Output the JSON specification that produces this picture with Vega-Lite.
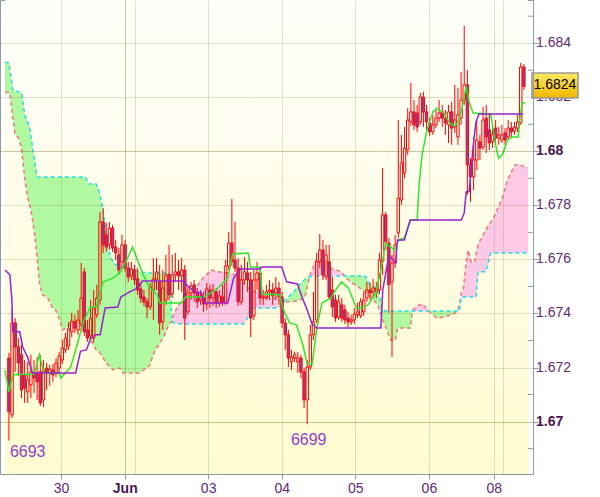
{
"$schema":"https://vega.github.io/schema/vega-lite/v6.json",
"width":533,"height":474,
"autosize":{"type":"none"},
"padding":{"left":0,"top":0,"right":67,"bottom":23},
"background":"#ffffff",
"config":{"font":"Liberation Sans","view":{"stroke":"#8e9aa4","strokeWidth":1}},
"datasets":{
"candles":[
{"i":0,"o":1.67235,"h":1.67254,"l":1.6693,"c":1.67036},
{"i":1,"o":1.67025,"h":1.67413,"l":1.67013,"c":1.67365},
{"i":2,"o":1.67365,"h":1.67383,"l":1.67184,"c":1.67276},
{"i":3,"o":1.67276,"h":1.67309,"l":1.67169,"c":1.67217},
{"i":4,"o":1.67247,"h":1.67284,"l":1.67087,"c":1.67117},
{"i":5,"o":1.67173,"h":1.67228,"l":1.67069,"c":1.67124},
{"i":6,"o":1.6711,"h":1.67221,"l":1.67069,"c":1.67154},
{"i":7,"o":1.67136,"h":1.67247,"l":1.67087,"c":1.67184},
{"i":8,"o":1.6718,"h":1.67228,"l":1.67106,"c":1.67161},
{"i":9,"o":1.67176,"h":1.67239,"l":1.6708,"c":1.67147},
{"i":10,"o":1.67184,"h":1.67247,"l":1.67058,"c":1.67069},
{"i":11,"o":1.6708,"h":1.67228,"l":1.67054,"c":1.67191},
{"i":12,"o":1.67198,"h":1.67217,"l":1.67117,"c":1.6718},
{"i":13,"o":1.6718,"h":1.6721,"l":1.67132,"c":1.67195},
{"i":14,"o":1.67191,"h":1.67213,"l":1.67147,"c":1.67173},
{"i":15,"o":1.6718,"h":1.67235,"l":1.67165,"c":1.67217},
{"i":16,"o":1.67198,"h":1.67258,"l":1.67173,"c":1.67243},
{"i":17,"o":1.67228,"h":1.67302,"l":1.67213,"c":1.67272},
{"i":18,"o":1.67265,"h":1.67328,"l":1.67254,"c":1.67309},
{"i":19,"o":1.6728,"h":1.67369,"l":1.67265,"c":1.67343},
{"i":20,"o":1.67332,"h":1.67402,"l":1.67313,"c":1.67372},
{"i":21,"o":1.67369,"h":1.67395,"l":1.67328,"c":1.67346},
{"i":22,"o":1.67339,"h":1.67413,"l":1.67321,"c":1.67376},
{"i":23,"o":1.67358,"h":1.67587,"l":1.67339,"c":1.67457},
{"i":24,"o":1.67554,"h":1.67568,"l":1.67317,"c":1.67332},
{"i":25,"o":1.67339,"h":1.67376,"l":1.67295,"c":1.67309},
{"i":26,"o":1.67317,"h":1.6745,"l":1.67302,"c":1.67383},
{"i":27,"o":1.67309,"h":1.67487,"l":1.67291,"c":1.6742},
{"i":28,"o":1.67395,"h":1.67506,"l":1.67383,"c":1.67457},
{"i":29,"o":1.6745,"h":1.67776,"l":1.67432,"c":1.67739},
{"i":30,"o":1.67739,"h":1.6779,"l":1.67624,"c":1.67654},
{"i":31,"o":1.67691,"h":1.67735,"l":1.67628,"c":1.67646},
{"i":32,"o":1.67654,"h":1.67739,"l":1.67635,"c":1.67716},
{"i":33,"o":1.67716,"h":1.67728,"l":1.67628,"c":1.67642},
{"i":34,"o":1.67646,"h":1.67672,"l":1.67598,"c":1.67624},
{"i":35,"o":1.67617,"h":1.67642,"l":1.67543,"c":1.67561},
{"i":36,"o":1.67591,"h":1.67691,"l":1.67568,"c":1.67654},
{"i":37,"o":1.67654,"h":1.67672,"l":1.67554,"c":1.67568},
{"i":38,"o":1.67568,"h":1.67591,"l":1.67517,"c":1.67535},
{"i":39,"o":1.67539,"h":1.67591,"l":1.67524,"c":1.67565},
{"i":40,"o":1.67561,"h":1.6758,"l":1.67506,"c":1.67524},
{"i":41,"o":1.67528,"h":1.67568,"l":1.67469,"c":1.67487},
{"i":42,"o":1.67491,"h":1.67513,"l":1.67439,"c":1.67457},
{"i":43,"o":1.67461,"h":1.67487,"l":1.67428,"c":1.67443},
{"i":44,"o":1.67443,"h":1.67457,"l":1.67383,"c":1.67424},
{"i":45,"o":1.67424,"h":1.67513,"l":1.67413,"c":1.67498},
{"i":46,"o":1.67487,"h":1.67605,"l":1.67376,"c":1.67528},
{"i":47,"o":1.67524,"h":1.67605,"l":1.67487,"c":1.67554},
{"i":48,"o":1.67517,"h":1.6758,"l":1.67321,"c":1.67365},
{"i":49,"o":1.67369,"h":1.67561,"l":1.67339,"c":1.67494},
{"i":50,"o":1.6745,"h":1.67617,"l":1.67432,"c":1.67543},
{"i":51,"o":1.67543,"h":1.67654,"l":1.6745,"c":1.67469},
{"i":52,"o":1.67472,"h":1.67617,"l":1.67457,"c":1.67543},
{"i":53,"o":1.67543,"h":1.67624,"l":1.67517,"c":1.67554},
{"i":54,"o":1.67554,"h":1.67598,"l":1.67487,"c":1.67539},
{"i":55,"o":1.67539,"h":1.67605,"l":1.6748,"c":1.67561},
{"i":56,"o":1.67561,"h":1.6758,"l":1.67302,"c":1.67383},
{"i":57,"o":1.67406,"h":1.67498,"l":1.67395,"c":1.67476},
{"i":58,"o":1.67476,"h":1.67517,"l":1.6745,"c":1.67502},
{"i":59,"o":1.67506,"h":1.67524,"l":1.67443,"c":1.67476},
{"i":60,"o":1.67476,"h":1.67494,"l":1.6742,"c":1.67443},
{"i":61,"o":1.6745,"h":1.67487,"l":1.67432,"c":1.67461},
{"i":62,"o":1.67461,"h":1.6748,"l":1.67406,"c":1.67435},
{"i":63,"o":1.67435,"h":1.67513,"l":1.67413,"c":1.67491},
{"i":64,"o":1.67487,"h":1.67506,"l":1.6742,"c":1.67457},
{"i":65,"o":1.67457,"h":1.67509,"l":1.67428,"c":1.67487},
{"i":66,"o":1.6748,"h":1.67494,"l":1.6742,"c":1.67439},
{"i":67,"o":1.67439,"h":1.67487,"l":1.67424,"c":1.67465},
{"i":68,"o":1.67461,"h":1.67506,"l":1.67428,"c":1.67443},
{"i":69,"o":1.67439,"h":1.67598,"l":1.67432,"c":1.67576},
{"i":70,"o":1.67576,"h":1.67702,"l":1.67561,"c":1.67661},
{"i":71,"o":1.67661,"h":1.67824,"l":1.67576,"c":1.67591},
{"i":72,"o":1.67598,"h":1.67739,"l":1.67554,"c":1.67568},
{"i":73,"o":1.67568,"h":1.67605,"l":1.67428,"c":1.67443},
{"i":74,"o":1.67443,"h":1.6758,"l":1.67432,"c":1.67524},
{"i":75,"o":1.67524,"h":1.67609,"l":1.67506,"c":1.67554},
{"i":76,"o":1.6755,"h":1.67591,"l":1.6748,"c":1.67524},
{"i":77,"o":1.67524,"h":1.67554,"l":1.67313,"c":1.67383},
{"i":78,"o":1.67391,"h":1.67561,"l":1.67376,"c":1.67524},
{"i":79,"o":1.67524,"h":1.67591,"l":1.67487,"c":1.6755},
{"i":80,"o":1.6755,"h":1.67568,"l":1.67432,"c":1.67457},
{"i":81,"o":1.67457,"h":1.67487,"l":1.67432,"c":1.67461},
{"i":82,"o":1.67457,"h":1.67506,"l":1.6745,"c":1.6748},
{"i":83,"o":1.6748,"h":1.67524,"l":1.6745,"c":1.67487},
{"i":84,"o":1.67487,"h":1.67513,"l":1.67432,"c":1.67465},
{"i":85,"o":1.67476,"h":1.67535,"l":1.6745,"c":1.67494},
{"i":86,"o":1.67494,"h":1.67517,"l":1.67432,"c":1.67461},
{"i":87,"o":1.67461,"h":1.6748,"l":1.67346,"c":1.67365},
{"i":88,"o":1.67365,"h":1.67383,"l":1.67265,"c":1.67321},
{"i":89,"o":1.67321,"h":1.67339,"l":1.67202,"c":1.67235},
{"i":90,"o":1.67221,"h":1.67265,"l":1.67191,"c":1.67239},
{"i":91,"o":1.67235,"h":1.67258,"l":1.67221,"c":1.67247},
{"i":92,"o":1.67221,"h":1.67258,"l":1.6718,"c":1.67235},
{"i":93,"o":1.67235,"h":1.67247,"l":1.67161,"c":1.67184},
{"i":94,"o":1.67184,"h":1.67198,"l":1.6705,"c":1.6708},
{"i":95,"o":1.6708,"h":1.67228,"l":1.6699,"c":1.67202},
{"i":96,"o":1.67202,"h":1.67358,"l":1.67191,"c":1.67321},
{"i":97,"o":1.67321,"h":1.6748,"l":1.67302,"c":1.67369},
{"i":98,"o":1.67376,"h":1.67624,"l":1.67365,"c":1.67591},
{"i":99,"o":1.67591,"h":1.67694,"l":1.67568,"c":1.67635},
{"i":100,"o":1.67635,"h":1.67672,"l":1.67524,"c":1.67543},
{"i":101,"o":1.67535,"h":1.67654,"l":1.67524,"c":1.67617},
{"i":102,"o":1.67591,"h":1.67654,"l":1.6745,"c":1.67461},
{"i":103,"o":1.67487,"h":1.67535,"l":1.67387,"c":1.67424},
{"i":104,"o":1.6745,"h":1.67469,"l":1.67369,"c":1.67383},
{"i":105,"o":1.67387,"h":1.67469,"l":1.67376,"c":1.67443},
{"i":106,"o":1.67432,"h":1.67457,"l":1.67369,"c":1.67383},
{"i":107,"o":1.67413,"h":1.67432,"l":1.67361,"c":1.67376},
{"i":108,"o":1.67383,"h":1.67406,"l":1.6735,"c":1.67369},
{"i":109,"o":1.67369,"h":1.67395,"l":1.67358,"c":1.67376},
{"i":110,"o":1.67376,"h":1.6742,"l":1.67361,"c":1.67398},
{"i":111,"o":1.67395,"h":1.67439,"l":1.67383,"c":1.67406},
{"i":112,"o":1.67391,"h":1.67457,"l":1.67383,"c":1.67443},
{"i":113,"o":1.67406,"h":1.6748,"l":1.67391,"c":1.6745},
{"i":114,"o":1.67457,"h":1.67517,"l":1.67443,"c":1.67487},
{"i":115,"o":1.67487,"h":1.67513,"l":1.6745,"c":1.67476},
{"i":116,"o":1.6748,"h":1.67528,"l":1.67457,"c":1.67494},
{"i":117,"o":1.67494,"h":1.67517,"l":1.67457,"c":1.6748},
{"i":118,"o":1.67487,"h":1.67624,"l":1.67472,"c":1.67598},
{"i":119,"o":1.67591,"h":1.67938,"l":1.67543,"c":1.67765},
{"i":120,"o":1.67765,"h":1.67776,"l":1.67635,"c":1.67665},
{"i":121,"o":1.67661,"h":1.67679,"l":1.67402,"c":1.67506},
{"i":122,"o":1.67517,"h":1.67617,"l":1.67239,"c":1.67587},
{"i":123,"o":1.67587,"h":1.67691,"l":1.67568,"c":1.67654},
{"i":124,"o":1.67698,"h":1.68116,"l":1.67679,"c":1.67827},
{"i":125,"o":1.6782,"h":1.68061,"l":1.67802,"c":1.67957},
{"i":126,"o":1.6792,"h":1.6809,"l":1.67901,"c":1.68012},
{"i":127,"o":1.68005,"h":1.6816,"l":1.67987,"c":1.68116},
{"i":128,"o":1.68109,"h":1.68253,"l":1.68094,"c":1.68146},
{"i":129,"o":1.68146,"h":1.6819,"l":1.68079,"c":1.68098},
{"i":130,"o":1.68142,"h":1.68172,"l":1.68072,"c":1.6809},
{"i":131,"o":1.68109,"h":1.68216,"l":1.68098,"c":1.68201},
{"i":132,"o":1.68201,"h":1.6822,"l":1.6809,"c":1.68146},
{"i":133,"o":1.68146,"h":1.68172,"l":1.68079,"c":1.68109},
{"i":134,"o":1.68105,"h":1.68123,"l":1.68057,"c":1.68072},
{"i":135,"o":1.68072,"h":1.68135,"l":1.68061,"c":1.68098},
{"i":136,"o":1.68098,"h":1.68153,"l":1.68086,"c":1.68123},
{"i":137,"o":1.68123,"h":1.6819,"l":1.68109,"c":1.68142},
{"i":138,"o":1.68146,"h":1.68172,"l":1.6809,"c":1.68123},
{"i":139,"o":1.68123,"h":1.68153,"l":1.68061,"c":1.68105},
{"i":140,"o":1.68098,"h":1.68172,"l":1.68031,"c":1.68146},
{"i":141,"o":1.68146,"h":1.68183,"l":1.68024,"c":1.68086},
{"i":142,"o":1.6809,"h":1.68246,"l":1.68068,"c":1.68116},
{"i":143,"o":1.68053,"h":1.68234,"l":1.68024,"c":1.68135},
{"i":144,"o":1.68123,"h":1.68294,"l":1.68098,"c":1.6819},
{"i":145,"o":1.6819,"h":1.68464,"l":1.68172,"c":1.68246},
{"i":146,"o":1.68246,"h":1.68301,"l":1.67839,"c":1.6795},
{"i":147,"o":1.6795,"h":1.67975,"l":1.67813,"c":1.67905},
{"i":148,"o":1.67905,"h":1.68053,"l":1.67857,"c":1.67968},
{"i":149,"o":1.67968,"h":1.68116,"l":1.67931,"c":1.68042},
{"i":150,"o":1.68035,"h":1.68061,"l":1.67968,"c":1.68012},
{"i":151,"o":1.68016,"h":1.68164,"l":1.68005,"c":1.68116},
{"i":152,"o":1.68123,"h":1.68172,"l":1.67994,"c":1.68053},
{"i":153,"o":1.68079,"h":1.68135,"l":1.68005,"c":1.68031},
{"i":154,"o":1.68035,"h":1.68098,"l":1.68012,"c":1.68061},
{"i":155,"o":1.68086,"h":1.68116,"l":1.68024,"c":1.68049},
{"i":156,"o":1.68049,"h":1.6809,"l":1.68024,"c":1.68061},
{"i":157,"o":1.68042,"h":1.68098,"l":1.68031,"c":1.68061},
{"i":158,"o":1.68068,"h":1.68086,"l":1.68024,"c":1.68042},
{"i":159,"o":1.68053,"h":1.68116,"l":1.68042,"c":1.68086},
{"i":160,"o":1.68086,"h":1.68109,"l":1.68049,"c":1.68072},
{"i":161,"o":1.68075,"h":1.68109,"l":1.68061,"c":1.6809},
{"i":162,"o":1.68086,"h":1.68135,"l":1.68072,"c":1.68109},
{"i":163,"o":1.68105,"h":1.68327,"l":1.68098,"c":1.68312},
{"i":164,"o":1.68312,"h":1.68323,"l":1.68227,"c":1.6824}
],
"green":[
{"i":-1.25,"p":1.67191},{"i":0,"p":1.6711},{"i":1.25,"p":1.67173},{"i":8.13,"p":1.67176},{"i":9.69,"p":1.67247},{"i":11.25,"p":1.6718},{"i":15.94,"p":1.6718},{"i":16.56,"p":1.67161},{"i":19.69,"p":1.67202},{"i":21.25,"p":1.67265},{"i":23.75,"p":1.67369},{"i":25.94,"p":1.67424},{"i":27.81,"p":1.67424},{"i":30,"p":1.67517},{"i":33.13,"p":1.67531},{"i":35.63,"p":1.67554},{"i":37.81,"p":1.67605},{"i":39.38,"p":1.67646},{"i":42.5,"p":1.6755},{"i":44.69,"p":1.67498},{"i":47.19,"p":1.67469},{"i":48.13,"p":1.67439},{"i":55,"p":1.67439},{"i":56.25,"p":1.67461},{"i":62.19,"p":1.67461},{"i":65.94,"p":1.67487},{"i":69.69,"p":1.67531},{"i":71.25,"p":1.6762},{"i":76.25,"p":1.67624},{"i":76.88,"p":1.67572},{"i":80,"p":1.67572},{"i":80.63,"p":1.67472},{"i":86.25,"p":1.67469},{"i":87.19,"p":1.6742},{"i":89.38,"p":1.67365},{"i":91.56,"p":1.67358},{"i":93.44,"p":1.67291},{"i":95,"p":1.67213},{"i":96.56,"p":1.67213},{"i":98.13,"p":1.6735},{"i":99.69,"p":1.67439},{"i":102.5,"p":1.67457},{"i":104.06,"p":1.67487},{"i":105.94,"p":1.67517},{"i":108.13,"p":1.67494},{"i":110.63,"p":1.6742},{"i":112.19,"p":1.6742},{"i":114.38,"p":1.67432},{"i":116.88,"p":1.67476},{"i":119.06,"p":1.67598},{"i":120,"p":1.67661},{"i":121.56,"p":1.67646},{"i":122.81,"p":1.67635},{"i":124.06,"p":1.67672},{"i":125.94,"p":1.67679},{"i":127.81,"p":1.67746},{"i":130,"p":1.67746},{"i":130.63,"p":1.67876},{"i":131.56,"p":1.67987},{"i":133.13,"p":1.68079},{"i":135,"p":1.68146},{"i":136.25,"p":1.6816},{"i":138.44,"p":1.68142},{"i":140.31,"p":1.68105},{"i":141.88,"p":1.68094},{"i":143.13,"p":1.68109},{"i":144.69,"p":1.68179},{"i":145.63,"p":1.68242},{"i":146.56,"p":1.68183},{"i":147.81,"p":1.68142},{"i":153.44,"p":1.68138},{"i":154.06,"p":1.6809},{"i":155,"p":1.68024},{"i":155.94,"p":1.67975},{"i":157.19,"p":1.67987},{"i":158.75,"p":1.68042},{"i":160.31,"p":1.68053},{"i":162.19,"p":1.68053},{"i":162.81,"p":1.68127},{"i":163.44,"p":1.68179},{"i":164.38,"p":1.68179}
],
"purple":[
{"i":-1.25,"p":1.67561},{"i":0.31,"p":1.67543},{"i":0.94,"p":1.6745},{"i":1.25,"p":1.67332},{"i":3.44,"p":1.67332},{"i":4.38,"p":1.67276},{"i":5.94,"p":1.67239},{"i":7.5,"p":1.6718},{"i":21.25,"p":1.6718},{"i":22.81,"p":1.67261},{"i":24.69,"p":1.67265},{"i":25.94,"p":1.67306},{"i":27.5,"p":1.67321},{"i":29.06,"p":1.67321},{"i":30.63,"p":1.6742},{"i":34.69,"p":1.67424},{"i":35.63,"p":1.67461},{"i":38.44,"p":1.6748},{"i":40.94,"p":1.67494},{"i":42.5,"p":1.6752},{"i":55.63,"p":1.6752},{"i":56.56,"p":1.67506},{"i":59.06,"p":1.6748},{"i":61.25,"p":1.67476},{"i":62.19,"p":1.67439},{"i":69.69,"p":1.67439},{"i":71.56,"p":1.67531},{"i":73.75,"p":1.67565},{"i":80,"p":1.67565},{"i":80.63,"p":1.67572},{"i":86.88,"p":1.67572},{"i":88.44,"p":1.67517},{"i":91.88,"p":1.67509},{"i":93.44,"p":1.67457},{"i":95,"p":1.67413},{"i":96.56,"p":1.67361},{"i":98.13,"p":1.67346},{"i":118.44,"p":1.67346},{"i":119.06,"p":1.67487},{"i":120.63,"p":1.67591},{"i":121.56,"p":1.67609},{"i":123.13,"p":1.67587},{"i":123.75,"p":1.67672},{"i":125.94,"p":1.67672},{"i":127.81,"p":1.67746},{"i":144.06,"p":1.67746},{"i":145,"p":1.67772},{"i":145.63,"p":1.6785},{"i":146.56,"p":1.6785},{"i":147.81,"p":1.68016},{"i":148.75,"p":1.68109},{"i":149.69,"p":1.68138},{"i":163.75,"p":1.68138}
],
"cloud":[
{"i":-1.25,"a":1.68331,"b":1.6822,"seg":1,"kind":"up"},
{"i":0,"a":1.68327,"b":1.68216,"seg":1,"kind":"up"},
{"i":0.31,"a":1.68301,"b":1.68216,"seg":1,"kind":"up"},
{"i":0.94,"a":1.68253,"b":1.68153,"seg":1,"kind":"up"},
{"i":1.25,"a":1.68227,"b":1.68123,"seg":1,"kind":"up"},
{"i":1.88,"a":1.68223,"b":1.68068,"seg":1,"kind":"up"},
{"i":3.44,"a":1.6822,"b":1.68042,"seg":1,"kind":"up"},
{"i":4.06,"a":1.68216,"b":1.68005,"seg":1,"kind":"up"},
{"i":5,"a":1.68135,"b":1.67905,"seg":1,"kind":"up"},
{"i":5.94,"a":1.68109,"b":1.67831,"seg":1,"kind":"up"},
{"i":6.56,"a":1.6809,"b":1.67802,"seg":1,"kind":"up"},
{"i":7.19,"a":1.68042,"b":1.67772,"seg":1,"kind":"up"},
{"i":7.5,"a":1.68016,"b":1.67746,"seg":1,"kind":"up"},
{"i":8.13,"a":1.67968,"b":1.67698,"seg":1,"kind":"up"},
{"i":8.75,"a":1.6792,"b":1.67635,"seg":1,"kind":"up"},
{"i":9.06,"a":1.67905,"b":1.67598,"seg":1,"kind":"up"},
{"i":9.69,"a":1.67905,"b":1.67513,"seg":1,"kind":"up"},
{"i":10.63,"a":1.67905,"b":1.67469,"seg":1,"kind":"up"},
{"i":12.19,"a":1.67905,"b":1.67461,"seg":1,"kind":"up"},
{"i":13.75,"a":1.67905,"b":1.67424,"seg":1,"kind":"up"},
{"i":15.31,"a":1.67905,"b":1.67406,"seg":1,"kind":"up"},
{"i":16.56,"a":1.67905,"b":1.67361,"seg":1,"kind":"up"},
{"i":17.19,"a":1.67905,"b":1.67339,"seg":1,"kind":"up"},
{"i":18.44,"a":1.67905,"b":1.6735,"seg":1,"kind":"up"},
{"i":20.63,"a":1.67905,"b":1.67369,"seg":1,"kind":"up"},
{"i":22.81,"a":1.67905,"b":1.67365,"seg":1,"kind":"up"},
{"i":23.75,"a":1.67905,"b":1.67339,"seg":1,"kind":"up"},
{"i":24.38,"a":1.67905,"b":1.67328,"seg":1,"kind":"up"},
{"i":25.31,"a":1.67879,"b":1.67313,"seg":1,"kind":"up"},
{"i":25.94,"a":1.67879,"b":1.67302,"seg":1,"kind":"up"},
{"i":27.81,"a":1.67879,"b":1.67265,"seg":1,"kind":"up"},
{"i":28.75,"a":1.6785,"b":1.67258,"seg":1,"kind":"up"},
{"i":30,"a":1.67783,"b":1.67235,"seg":1,"kind":"up"},
{"i":30.94,"a":1.67691,"b":1.67217,"seg":1,"kind":"up"},
{"i":31.56,"a":1.67635,"b":1.6721,"seg":1,"kind":"up"},
{"i":33.13,"a":1.67591,"b":1.67191,"seg":1,"kind":"up"},
{"i":34.06,"a":1.6758,"b":1.67195,"seg":1,"kind":"up"},
{"i":35.31,"a":1.67576,"b":1.67198,"seg":1,"kind":"up"},
{"i":36.25,"a":1.67572,"b":1.6718,"seg":1,"kind":"up"},
{"i":37.81,"a":1.67568,"b":1.6718,"seg":1,"kind":"up"},
{"i":41.56,"a":1.67554,"b":1.6718,"seg":1,"kind":"up"},
{"i":44.69,"a":1.6755,"b":1.67206,"seg":1,"kind":"up"},
{"i":46.56,"a":1.6755,"b":1.67265,"seg":1,"kind":"up"},
{"i":47.81,"a":1.6755,"b":1.67284,"seg":1,"kind":"up"},
{"i":49.38,"a":1.6755,"b":1.67317,"seg":1,"kind":"up"},
{"i":50.94,"a":1.6755,"b":1.67358,"seg":1,"kind":"up"},
{"i":51.25,"a":1.6755,"b":1.67365,"seg":1,"kind":"up"},
{"i":51.88,"a":1.67369,"b":1.67369,"seg":1,"kind":"up"},
{"i":51.88,"a":1.67369,"b":1.67369,"seg":2,"kind":"down"},
{"i":52.81,"a":1.67365,"b":1.67406,"seg":2,"kind":"down"},
{"i":55,"a":1.67361,"b":1.6745,"seg":2,"kind":"down"},
{"i":58.13,"a":1.67361,"b":1.67469,"seg":2,"kind":"down"},
{"i":61.25,"a":1.67361,"b":1.67524,"seg":2,"kind":"down"},
{"i":64.38,"a":1.67361,"b":1.67561,"seg":2,"kind":"down"},
{"i":66.56,"a":1.67361,"b":1.67554,"seg":2,"kind":"down"},
{"i":69.69,"a":1.67361,"b":1.6755,"seg":2,"kind":"down"},
{"i":72.19,"a":1.67361,"b":1.67543,"seg":2,"kind":"down"},
{"i":74.69,"a":1.67361,"b":1.67513,"seg":2,"kind":"down"},
{"i":75.94,"a":1.67383,"b":1.67498,"seg":2,"kind":"down"},
{"i":76.88,"a":1.6742,"b":1.67487,"seg":2,"kind":"down"},
{"i":79.38,"a":1.6742,"b":1.67476,"seg":2,"kind":"down"},
{"i":82.19,"a":1.6742,"b":1.67461,"seg":2,"kind":"down"},
{"i":84.69,"a":1.6742,"b":1.67457,"seg":2,"kind":"down"},
{"i":86.25,"a":1.67424,"b":1.6745,"seg":2,"kind":"down"},
{"i":87.5,"a":1.67443,"b":1.67443,"seg":2,"kind":"down"},
{"i":87.5,"a":1.67443,"b":1.67443,"seg":3,"kind":"up"},
{"i":89.38,"a":1.67465,"b":1.67443,"seg":3,"kind":"up"},
{"i":91.56,"a":1.67491,"b":1.67446,"seg":3,"kind":"up"},
{"i":92.5,"a":1.67506,"b":1.6745,"seg":3,"kind":"up"},
{"i":94.06,"a":1.67524,"b":1.67457,"seg":3,"kind":"up"},
{"i":94.69,"a":1.67531,"b":1.6748,"seg":3,"kind":"up"},
{"i":95.63,"a":1.67535,"b":1.67535,"seg":3,"kind":"up"},
{"i":95.63,"a":1.67535,"b":1.67535,"seg":4,"kind":"down"},
{"i":96.56,"a":1.67539,"b":1.67561,"seg":4,"kind":"down"},
{"i":97.81,"a":1.67539,"b":1.67598,"seg":4,"kind":"down"},
{"i":100.94,"a":1.67539,"b":1.67598,"seg":4,"kind":"down"},
{"i":102.5,"a":1.67539,"b":1.67568,"seg":4,"kind":"down"},
{"i":104.06,"a":1.67539,"b":1.67561,"seg":4,"kind":"down"},
{"i":105.94,"a":1.67539,"b":1.67554,"seg":4,"kind":"down"},
{"i":106.88,"a":1.67539,"b":1.67539,"seg":4,"kind":"down"},
{"i":106.88,"a":1.67539,"b":1.67539,"seg":5,"kind":"up"},
{"i":108.75,"a":1.67539,"b":1.67517,"seg":5,"kind":"up"},
{"i":111.25,"a":1.67539,"b":1.67498,"seg":5,"kind":"up"},
{"i":113.44,"a":1.67539,"b":1.6748,"seg":5,"kind":"up"},
{"i":114.38,"a":1.67517,"b":1.67472,"seg":5,"kind":"up"},
{"i":115.31,"a":1.67506,"b":1.67461,"seg":5,"kind":"up"},
{"i":117.5,"a":1.67487,"b":1.67432,"seg":5,"kind":"up"},
{"i":119.06,"a":1.67413,"b":1.67376,"seg":5,"kind":"up"},
{"i":120,"a":1.67409,"b":1.6735,"seg":5,"kind":"up"},
{"i":121.56,"a":1.67409,"b":1.67302,"seg":5,"kind":"up"},
{"i":123.13,"a":1.67409,"b":1.67302,"seg":5,"kind":"up"},
{"i":123.75,"a":1.67409,"b":1.67346,"seg":5,"kind":"up"},
{"i":127.81,"a":1.67409,"b":1.67346,"seg":5,"kind":"up"},
{"i":128.44,"a":1.67409,"b":1.67409,"seg":5,"kind":"up"},
{"i":128.44,"a":1.67409,"b":1.67409,"seg":6,"kind":"down"},
{"i":129.06,"a":1.67409,"b":1.67417,"seg":6,"kind":"down"},
{"i":130,"a":1.67409,"b":1.67428,"seg":6,"kind":"down"},
{"i":131.56,"a":1.67409,"b":1.67435,"seg":6,"kind":"down"},
{"i":133.13,"a":1.67409,"b":1.67417,"seg":6,"kind":"down"},
{"i":133.75,"a":1.67409,"b":1.67409,"seg":6,"kind":"down"},
{"i":133.75,"a":1.67409,"b":1.67409,"seg":7,"kind":"up"},
{"i":136.25,"a":1.67409,"b":1.67383,"seg":7,"kind":"up"},
{"i":138.44,"a":1.67409,"b":1.67387,"seg":7,"kind":"up"},
{"i":141.56,"a":1.67409,"b":1.67398,"seg":7,"kind":"up"},
{"i":142.81,"a":1.67409,"b":1.67409,"seg":7,"kind":"up"},
{"i":142.81,"a":1.67409,"b":1.67409,"seg":8,"kind":"down"},
{"i":143.44,"a":1.67409,"b":1.67428,"seg":8,"kind":"down"},
{"i":144.06,"a":1.67461,"b":1.67476,"seg":8,"kind":"down"},
{"i":144.69,"a":1.67461,"b":1.67487,"seg":8,"kind":"down"},
{"i":145.63,"a":1.67461,"b":1.67591,"seg":8,"kind":"down"},
{"i":146.25,"a":1.67461,"b":1.67635,"seg":8,"kind":"down"},
{"i":147.19,"a":1.67461,"b":1.67591,"seg":8,"kind":"down"},
{"i":148.13,"a":1.67461,"b":1.67587,"seg":8,"kind":"down"},
{"i":148.75,"a":1.67461,"b":1.67617,"seg":8,"kind":"down"},
{"i":149.38,"a":1.67554,"b":1.67654,"seg":8,"kind":"down"},
{"i":151.88,"a":1.67554,"b":1.67709,"seg":8,"kind":"down"},
{"i":153.44,"a":1.67624,"b":1.67739,"seg":8,"kind":"down"},
{"i":154.06,"a":1.67624,"b":1.67746,"seg":8,"kind":"down"},
{"i":157.19,"a":1.67624,"b":1.67831,"seg":8,"kind":"down"},
{"i":158.75,"a":1.67624,"b":1.67894,"seg":8,"kind":"down"},
{"i":160.31,"a":1.67624,"b":1.67931,"seg":8,"kind":"down"},
{"i":161.25,"a":1.67624,"b":1.6795,"seg":8,"kind":"down"},
{"i":162.81,"a":1.67624,"b":1.6795,"seg":8,"kind":"down"},
{"i":165.31,"a":1.67624,"b":1.67938,"seg":8,"kind":"down"}
],
"lows":[{"i":0,"low":1.6693,"label":"6693"},{"i":95,"low":1.6699,"label":"6699"}],
"minor":[{"v":1.669},{"v":1.671},{"v":1.673},{"v":1.675},{"v":1.677},{"v":1.679},{"v":1.681},{"v":1.683},{"v":1.685}],
"ylab":[{"v":1.67,"bold":true},{"v":1.672,"bold":false},{"v":1.674,"bold":false},{"v":1.676,"bold":false},{"v":1.678,"bold":false},{"v":1.68,"bold":true},{"v":1.682,"bold":false},{"v":1.684,"bold":false}]
},
"layer":[
{"data":{"values":[{}]},
 "mark":{"type":"rect","color":{"gradient":"linear","x1":0,"y1":0,"x2":0,"y2":1,"stops":[{"offset":0,"color":"#fffffb"},{"offset":1,"color":"#fffbd0"}]}},
 "encoding":{
  "x":{"datum":-1.25,"type":"quantitative","scale":{"domain":[-1.25,165.31],"nice":false,"zero":false},
   "axis":{"values":[16.56,36.88,40,63.44,86.88,110.31,133.75,154.38,157.5],
    "labelExpr":"datum.value < 20 ? '30' : datum.value < 38 ? 'Jun' : datum.value < 50 ? '' : datum.value < 70 ? '03' : datum.value < 100 ? '04' : datum.value < 120 ? '05' : datum.value < 140 ? '06' : datum.value < 156 ? '08' : ''",
    "title":null,"grid":true,"gridColor":"#7a7228",
    "gridOpacity":{"condition":{"test":"datum.value > 36 && datum.value < 38","value":0.4},"value":0.22},
    "domainColor":"#8e9aa4","tickColor":"#8e9aa4","tickSize":5,
    "tickOpacity":{"condition":{"test":"(datum.value > 38 && datum.value < 50) || datum.value > 156","value":0},"value":1},
    "labelFont":"Liberation Sans","labelFontSize":14,"labelPadding":2,
    "labelColor":{"condition":{"test":"datum.value > 36 && datum.value < 38","value":"#4b1650"},"value":"#5e2a78"},
    "labelFontWeight":{"condition":{"test":"datum.value > 36 && datum.value < 38","value":"bold"},"value":"normal"},
    "labelFlush":false,"labelOverlap":false,"zindex":1}},
  "x2":{"datum":165.31},
  "y":{"datum":1.66806,"type":"quantitative","scale":{"domain":[1.66806,1.6856],"nice":false,"zero":false},
   "axis":{"orient":"right","values":[1.67,1.672,1.674,1.676,1.678,1.68,1.682,1.684],
    "labels":false,
    "title":null,"grid":true,
    "gridColor":"#7a7228",
    "gridOpacity":{"condition":{"test":"abs(datum.value - 1.68) < 0.0001 || abs(datum.value - 1.67) < 0.0001","value":0.4},"value":0.22},
    "domainColor":"#8e9aa4","tickColor":"#8e9aa4","tickSize":5,"zindex":1}},
  "y2":{"datum":1.6856}}},
{"data":{"name":"cloud"},
 "mark":{"type":"area","opacity":1},
 "encoding":{
  "x":{"field":"i","type":"quantitative","title":null},
  "y":{"field":"a","type":"quantitative","title":null},
  "y2":{"field":"b"},
  "color":{"field":"kind","type":"nominal","scale":{"domain":["up","down"],"range":["#b0f9a0","#fcc9e6"]},"legend":null},
  "detail":{"field":"seg","type":"nominal"}}},
{"data":{"name":"cloud"},
 "mark":{"type":"line","color":"#f07878","strokeWidth":1.5,"strokeDash":[4,3]},
 "encoding":{
  "x":{"field":"i","type":"quantitative","title":null},
  "y":{"field":"b","type":"quantitative","title":null}}},
{"data":{"name":"cloud"},
 "mark":{"type":"line","color":"#22dde8","strokeWidth":1.5,"strokeDash":[4,3]},
 "encoding":{
  "x":{"field":"i","type":"quantitative","title":null},
  "y":{"field":"a","type":"quantitative","title":null}}},
{"data":{"name":"candles"},
 "transform":[{"filter":"datum.c >= datum.o"}],
 "mark":{"type":"rule","color":"#ff0000","strokeWidth":1},
 "encoding":{
  "x":{"field":"i","type":"quantitative","title":null},
  "y":{"field":"h","type":"quantitative","title":null},
  "y2":{"field":"c"}}},
{"data":{"name":"candles"},
 "transform":[{"filter":"datum.c >= datum.o"}],
 "mark":{"type":"rule","color":"#ff0000","strokeWidth":1},
 "encoding":{
  "x":{"field":"i","type":"quantitative","title":null},
  "y":{"field":"o","type":"quantitative","title":null},
  "y2":{"field":"l"}}},
{"data":{"name":"candles"},
 "transform":[{"filter":"datum.c < datum.o"}],
 "mark":{"type":"rule","color":"#ff0000","strokeWidth":1},
 "encoding":{
  "x":{"field":"i","type":"quantitative","title":null},
  "y":{"field":"h","type":"quantitative","title":null},
  "y2":{"field":"o"}}},
{"data":{"name":"candles"},
 "transform":[{"filter":"datum.c < datum.o"}],
 "mark":{"type":"rule","color":"#ff0000","strokeWidth":1},
 "encoding":{
  "x":{"field":"i","type":"quantitative","title":null},
  "y":{"field":"c","type":"quantitative","title":null},
  "y2":{"field":"l"}}},
{"data":{"name":"candles"},
 "mark":{"type":"bar","size":2.4,"stroke":"#ff0000","strokeWidth":1},
 "encoding":{
  "x":{"field":"i","type":"quantitative","title":null},
  "y":{"field":"o","type":"quantitative","title":null},
  "y2":{"field":"c"},
  "fill":{"condition":{"test":"datum.c < datum.o","value":"#8844aa"},"value":"transparent"}}},
{"data":{"name":"green"},
 "mark":{"type":"line","color":"#2ee62e","strokeWidth":1.5},
 "encoding":{
  "x":{"field":"i","type":"quantitative","title":null},
  "y":{"field":"p","type":"quantitative","title":null}}},
{"data":{"name":"purple"},
 "mark":{"type":"line","color":"#9a22cc","strokeWidth":1.5},
 "encoding":{
  "x":{"field":"i","type":"quantitative","title":null},
  "y":{"field":"p","type":"quantitative","title":null}}},
{"data":{"name":"lows"},
 "transform":[{"filter":"datum.label == '6693'"}],
 "mark":{"type":"text","align":"left","baseline":"middle","dx":1,"dy":12,"fontSize":16,"color":"#9440c4","font":"Liberation Sans"},
 "encoding":{
  "x":{"field":"i","type":"quantitative","title":null},
  "y":{"field":"low","type":"quantitative","title":null},
  "text":{"field":"label"}}},
{"data":{"name":"lows"},
 "transform":[{"filter":"datum.label == '6699'"}],
 "mark":{"type":"text","align":"center","baseline":"middle","dx":1.5,"dy":16,"fontSize":16,"color":"#9440c4","font":"Liberation Sans"},
 "encoding":{
  "x":{"field":"i","type":"quantitative","title":null},
  "y":{"field":"low","type":"quantitative","title":null},
  "text":{"field":"label"}}},
{"data":{"name":"minor"},
 "mark":{"type":"rule","color":"#8e9aa4","strokeWidth":1},
 "encoding":{
  "x":{"datum":165.31,"type":"quantitative","title":null},
  "x2":{"datum":166.87},
  "y":{"field":"v","type":"quantitative","title":null}}},
{"data":{"name":"ylab"},
 "transform":[{"filter":"!datum.bold"}],
 "mark":{"type":"text","align":"left","baseline":"middle","dx":8,"fontSize":14,"color":"#5e2a78","font":"Liberation Sans"},
 "encoding":{
  "x":{"datum":165.31,"type":"quantitative","title":null},
  "y":{"field":"v","type":"quantitative","title":null},
  "text":{"field":"v","type":"quantitative","format":".3~f"}}},
{"data":{"name":"ylab"},
 "transform":[{"filter":"datum.bold"}],
 "mark":{"type":"text","align":"left","baseline":"middle","dx":8,"fontSize":14,"fontWeight":"bold","color":"#4b1650","font":"Liberation Sans"},
 "encoding":{
  "x":{"datum":165.31,"type":"quantitative","title":null},
  "y":{"field":"v","type":"quantitative","title":null},
  "text":{"field":"v","type":"quantitative","format":".3~f"}}},
{"data":{"values":[{}]},
 "mark":{"type":"rect","stroke":"#9a9a9a","strokeWidth":1.5,"color":{"gradient":"linear","x1":0,"y1":0,"x2":0,"y2":1,"stops":[{"offset":0,"color":"#ffe860"},{"offset":1,"color":"#f0b800"}]}},
 "encoding":{
  "x":{"datum":166.56,"type":"quantitative","title":null},
  "x2":{"datum":181.25},
  "y":{"datum":1.6829,"type":"quantitative","title":null},
  "y2":{"datum":1.68197}}},
{"data":{"name":"candles"},
 "transform":[{"filter":"datum.i == 164"}],
 "mark":{"type":"text","align":"center","baseline":"middle","fontSize":14,"color":"#000000","font":"Liberation Sans","dy":-1},
 "encoding":{
  "x":{"datum":173.9,"type":"quantitative","title":null},
  "y":{"field":"c","type":"quantitative","title":null},
  "text":{"field":"c","type":"quantitative","format":".4f"}}}
]
}
